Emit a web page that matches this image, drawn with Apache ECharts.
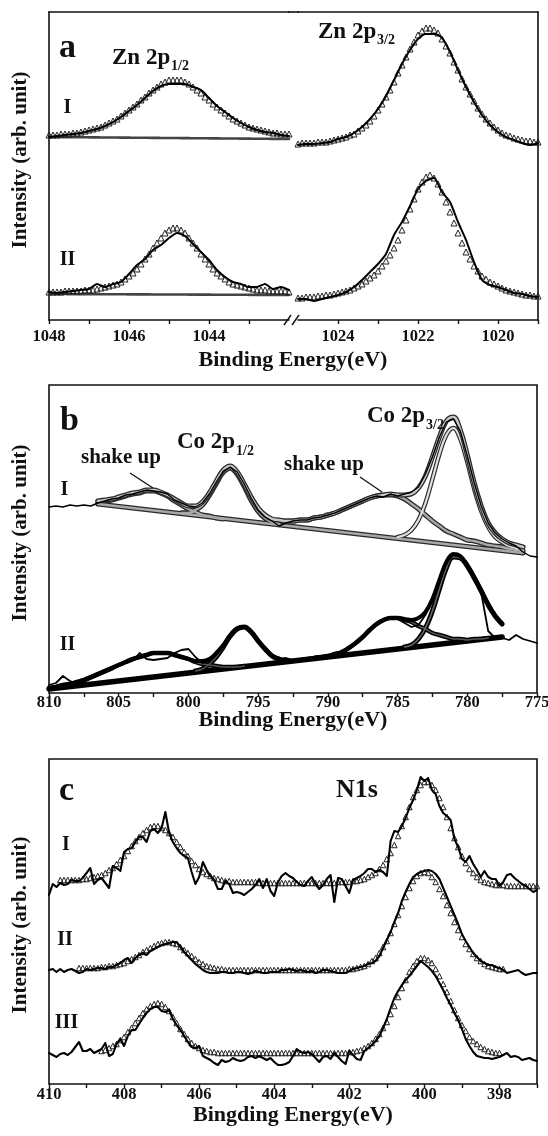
<!DOCTYPE html>
<html><head><meta charset="utf-8">
<script src="https://cdn.jsdelivr.net/npm/echarts@6/dist/echarts.min.js"></script>
<style>html,body{margin:0;padding:0;background:#fff}#chart{width:548px;height:1136px}</style>
</head><body><div id="chart"></div>
<script>
const FONT='"Liberation Serif","Times New Roman",Times,serif';
const INK='#111';

// ---------- Panel a : Zn 2p (values = intensity, arb. units) ----------
const aFitStep=0.1, aDataStep=0.2, aLeftStart=1048, aRightStart=1025;
const aFitI_L=[185,185,185,186,186,186,187,187,188,189,190,191,192,193,195,197,199,201,204,207,210,213,216,220,223,227,230,233,236,238,240,240,240,240,238,236,233,230,227,223,220,216,213,210,207,204,201,199,197,195,193,192,191,190,189,188,187,187,186,186,186];
const aDataI_L=[183,184,185,186,187,189,191,194,198,203,209,215,222,229,234,236,236,236,233,230,222,214,208,202,197,193,190,188,187,185,184];
const aFitII_L=[28,28,28,28,29,29,29,29,29,30,30,30,31,32,33,34,35,36,38,41,44,47,51,56,61,66,72,77,82,87,90,92,92,90,87,82,77,72,66,61,56,51,47,44,41,38,36,35,34,33,32,31,30,30,30,29,29,29,29,29,28];
const aDataII_L=[28,27,28,29,30,31,36,33,36,38,46,55,61,70,75,82,87,84,76,68,60,50,43,38,36,33,33,36,31,33,30];
const aFitI_R=[176,177,177,177,177,178,178,178,179,180,181,182,183,185,186,189,192,195,199,204,210,216,223,230,238,247,255,263,271,278,285,289,292,292,290,287,281,274,267,258,250,241,233,226,219,212,206,201,197,193,190,187,185,184,182,181,180,179,179,178,178];
const aDataI_R=[175,176,176,177,178,181,183,187,193,201,211,224,240,256,270,281,286,286,282,268,250,233,218,205,195,188,183,180,177,175,177];
const aFitII_R=[22,22,23,23,23,24,24,25,25,26,27,28,29,30,32,34,36,39,42,45,49,54,59,65,72,80,90,100,111,121,131,138,143,145,142,136,128,118,108,97,87,77,68,61,54,49,44,41,38,36,34,32,30,29,28,27,26,25,25,24,24];
const aDataII_R=[21,21,19,21,23,25,28,33,40,48,56,66,85,98,114,131,139,142,128,118,98,80,58,40,35,33,30,27,26,24,23];
const aBgE=[1048,1042], aBgI=[183,181], aBgII=[26,25];
const aTicksL=[1048,1047,1046,1045,1044,1043], aLabelsL=[1048,1046,1044];
const aTicksR=[1024,1023,1022,1021,1020,1019], aLabelsR=[1024,1022,1020];

// ---------- Panel b : Co 2p ----------
const bStep=0.5, bStart=810;
const bDataI=[186,187,186,188,187,188,187,190,192,194,195,198,199,201,203,202,201,199,193,190,187,186,190,199,211,222,226,221,209,195,183,176,172,167,170,172,173,173,175,176,178,180,183,186,189,192,195,197,196,199,197,199,201,206,219,236,256,271,274,262,237,210,187,170,160,154,150,147,141,137,136];
const bDataII=[8,10,17,12,10,11,14,17,20,23,27,30,32,40,34,33,34,35,40,43,44,36,30,32,38,48,58,65,66,61,52,43,36,34,35,33,34,33,35,34,37,38,41,44,49,56,63,69,73,75,74,70,66,68,78,93,112,130,138,136,128,116,100,62,55,55,53,58,54,52,50];
const bBgIE=[806.5,776], bBgI=[189,140];
const bShake1I_start=806.5, bShake1I=[191,192,193,195,197,199,200,202,202,200,197,192,188,184,181,178,177,175,174];
const bMain1I_start=800.5, bMain1I=[180,180,183,188,198,210,221,225,219,207,193,182,175,171,169];
const bShake2I_start=793, bShake2I=[172,172,173,173,175,176,178,180,183,186,189,192,195,197,198,198,197,194,189,184,178,172,167,162,159,156,153,152,150,148,147,146,144,143,142];
const bMain2I_start=785, bMain2I=[156,158,163,173,190,214,239,258,265,254,231,204,182,166,156,151,147,145,143];
const bEnvI_start=806.5, bEnvI=[192,193,194,196,198,200,201,203,203,201,198,194,190,187,187,191,200,212,223,227,221,209,196,185,178,174,173,172,172,173,173,175,176,178,180,183,186,189,192,195,197,198,199,198,198,199,205,217,236,256,272,276,263,238,210,187,170,160,154,150,148,146];
const bBgIIE=[810,777.5], bBgII=[4,56];
const bShake1II_start=810, bShake1II=[5,6,8,9,11,13,16,19,22,25,28,31,34,36,38,40,40,40,38,36,34,31,29,28,27,26,26,26,27];
const bMain1II_start=799.5, bMain1II=[22,24,29,36,46,57,64,66,61,52,44,37,34,32];
const bShake2II_start=791, bShake2II=[35,36,37,39,41,45,50,56,63,69,73,75,75,73,71,67,64,60,58,56,54,54,53,54,54,55];
const bMain2II_start=784.5, bMain2II=[46,48,54,65,82,104,125,136,135,127,115,102,88,77,69];
const bEnvII_start=810, bEnvII=[5,6,8,9,11,13,16,19,22,25,28,31,34,36,38,40,40,40,38,36,34,32,32,34,40,48,58,65,66,61,52,44,37,34,32,32,33,34,35,36,37,39,41,45,50,56,63,69,73,75,75,74,73,75,81,94,113,131,139,137,128,116,102,89,77,69];
const bTicks=[810,807.5,805,802.5,800,797.5,795,792.5,790,787.5,785,782.5,780,777.5,775];
const bLabels=[810,805,800,795,790,785,780,775];

// ---------- Panel c : N1s ----------
const cStep=0.1, cDataStart=410;
const cDataI=[189,200,197,201,199,200,204,203,203,206,211,216,200,204,206,201,196,218,216,213,232,235,236,242,247,247,242,253,255,251,256,272,251,242,236,231,228,226,212,200,207,222,214,208,204,195,195,203,200,191,192,191,189,192,195,199,205,196,205,193,188,202,208,211,208,206,202,199,198,203,207,200,195,199,205,209,182,206,205,198,191,204,206,208,211,215,215,212,214,212,208,243,253,252,258,266,276,284,294,307,303,306,294,290,278,271,268,264,245,237,225,222,228,220,214,207,213,207,205,205,198,202,209,210,206,203,200,198,195,192,194];
const cFitI_start=409.7, cFitI=[204,204,204,204,204,204,205,205,206,207,208,209,211,214,216,220,224,228,233,238,243,247,251,254,257,258,258,256,254,251,247,242,237,232,228,223,219,215,212,210,208,206,205,204,203,203,202,202,202,202,202,202,202,201,201,201,201,201,201,201,201,201,201,201,201,201,201,201,201,201,201,201,201,201,202,202,202,202,203,203,204,205,207,209,211,215,219,225,231,239,248,258,267,277,287,294,299,302,302,299,294,286,277,267,256,246,237,228,221,215,211,207,204,202,201,200,199,199,199,198,198,198,198,198,198,198,198,198];
const cDataII=[114,115,112,115,112,114,115,113,111,112,115,114,115,116,116,115,117,117,119,121,124,126,121,126,129,131,129,133,135,137,139,140,141,142,142,137,132,128,124,120,117,114,112,111,111,111,112,112,111,111,112,112,111,110,111,113,112,111,111,112,112,112,114,114,115,114,113,114,113,112,113,111,112,114,114,113,112,111,111,111,113,115,116,117,118,120,121,123,128,136,144,152,162,171,183,192,200,207,210,212,213,214,213,210,205,196,187,178,169,160,150,143,137,131,127,123,121,119,119,117,116,114,111,112,113,114,111,109,110,111,111];
const cFitII_start=409.2, cFitII=[116,116,116,116,116,116,117,117,118,118,119,120,121,123,125,127,129,132,134,136,138,140,141,142,142,141,140,137,134,131,128,125,122,120,118,117,116,115,115,114,114,114,114,114,114,114,114,114,114,114,114,114,114,114,114,114,114,114,114,114,114,114,114,114,114,114,114,114,114,114,114,114,115,115,116,117,118,120,123,126,131,137,143,151,160,169,178,187,196,203,208,211,212,211,207,202,195,188,179,171,162,154,147,140,135,130,126,123,120,118,117,116,115,115];
const cDataIII=[31,29,27,30,31,29,32,37,42,33,33,35,31,33,35,41,28,30,40,45,38,48,54,54,60,66,71,75,77,77,73,72,74,65,59,54,48,42,37,36,38,28,26,24,21,19,24,22,23,26,24,23,24,27,28,26,28,26,24,26,22,19,19,20,22,28,35,32,31,32,30,26,22,27,28,25,31,27,23,20,33,29,25,24,33,36,39,43,48,56,65,76,86,93,99,104,108,113,118,123,120,117,113,108,101,94,86,79,71,64,55,45,38,32,28,27,26,26,25,26,27,29,31,27,28,27,24,25,26,24,23];
const cFitIII_start=408.6, cFitIII=[33,34,36,38,40,44,47,52,56,61,66,71,75,78,80,81,80,77,73,67,61,55,50,45,41,38,36,34,33,32,32,31,31,31,31,31,31,31,31,31,31,31,31,31,31,31,31,31,31,31,31,31,31,31,31,31,31,31,31,31,31,31,31,31,31,31,32,32,33,34,36,38,41,45,50,56,62,70,78,87,96,104,112,118,123,126,126,124,121,115,108,100,92,83,74,66,59,53,47,43,40,37,35,33,32,31,31];
const cTicks=[410,409,408,407,406,405,404,403,402,401,400,399,398,397];
const cLabels=[410,408,406,404,402,400,398];

// ---------- helpers ----------
function pts(start, step, ys){ return ys.map((v,i)=>[+(start - i*step).toFixed(2), v]); }
function zip(xs, ys){ return ys.map((v,i)=>[xs[i], v]); }
const series=[];
function tri(data, xi, yi, size){
  series.push({type:'line', xAxisIndex:xi, yAxisIndex:yi, data, symbol:'triangle', symbolSize:size||6,
    showSymbol:true, showAllSymbol:true, lineStyle:{opacity:0,width:0}, silent:true, z:3,
    itemStyle:{color:'rgba(255,255,255,0)', borderColor:'#222', borderWidth:1}});
}
function line(data, xi, yi, color, width, smooth, z, dash){
  series.push({type:'line', xAxisIndex:xi, yAxisIndex:yi, data, symbol:'none', showSymbol:false, silent:true,
    smooth: smooth||false, z: z||4, lineStyle:{color, width, type: dash||'solid', cap:'round', join:'round'}});
}
function band(data, xi, yi, outer, inner, wo, wi, z){
  line(data, xi, yi, outer, wo, 0.4, z);
  if (inner) line(data, xi, yi, inner, wi, 0.4, z+0.1);
}

// panel a
line(zip(aBgE,aBgI),0,0,'#444',2.6,false,2,[2,1]);
line(zip(aBgE,aBgII),0,0,'#444',2.6,false,2,[2,1]);
tri(pts(aLeftStart,aFitStep,aFitI_L),0,0);
tri(pts(aLeftStart,aFitStep,aFitII_L),0,0);
line(pts(aLeftStart,aDataStep,aDataI_L),0,0,'#000',2,0.3);
line(pts(aLeftStart,aDataStep,aDataII_L),0,0,'#000',2,0.2);
tri(pts(aRightStart,aFitStep,aFitI_R),2,1);
tri(pts(aRightStart,aFitStep,aFitII_R),2,1);
line(pts(aRightStart,aDataStep,aDataI_R),2,1,'#000',2,0.3);
line(pts(aRightStart,aDataStep,aDataII_R),2,1,'#000',2,0.2);

// panel b row I
band(zip(bBgIE,bBgI),4,2,'#2a2a2a','#a8a8a8',5,2.4,3);
band(pts(bShake1I_start,bStep,bShake1I),4,2,'#2a2a2a','#a8a8a8',5,2.4,3);
band(pts(bMain1I_start,bStep,bMain1I),4,2,'#2a2a2a','#a8a8a8',5.5,2.6,3);
band(pts(bShake2I_start,bStep,bShake2I),4,2,'#2a2a2a','#a8a8a8',5,2.4,3);
band(pts(bMain2I_start,bStep,bMain2I),4,2,'#2a2a2a','#e0e0e0',4.5,2.2,3);
band(pts(bEnvI_start,bStep,bEnvI),4,2,'#2a2a2a','#c8c8c8',5,2.4,3.3);
line(pts(bStart,bStep,bDataI),4,2,'#000',1.4,false,5);
// panel b row II
band(zip(bBgIIE,bBgII),4,2,'#000',null,5.5,0,3);
band(pts(bShake1II_start,bStep,bShake1II),4,2,'#000','#555',4.5,1.4,3);
band(pts(bMain1II_start,bStep,bMain1II),4,2,'#000','#555',5,1.4,3);
band(pts(bShake2II_start,bStep,bShake2II),4,2,'#000','#555',4.5,1.4,3);
band(pts(bMain2II_start,bStep,bMain2II),4,2,'#000','#666',5,1.6,3);
band(pts(bEnvII_start,bStep,bEnvII),4,2,'#000',null,4,0,3.3);
line(pts(bStart,bStep,bDataII),4,2,'#000',1.8,false,5);

// panel c
tri(pts(cFitI_start,cStep,cFitI),5,3,5.5);
tri(pts(cFitII_start,cStep,cFitII),5,3,5.5);
tri(pts(cFitIII_start,cStep,cFitIII),5,3,5.5);
line(pts(cDataStart,cStep,cDataI),5,3,'#000',2.1,false,4);
line(pts(cDataStart,cStep,cDataII),5,3,'#000',2.1,false,4);
line(pts(cDataStart,cStep,cDataIII),5,3,'#000',2.1,false,4);

// ---------- axes ----------
const axLine={show:true,onZero:false,lineStyle:{color:INK,width:1.6}};
function xAx(grid,min,max,interval,ticks,labels,margin,showLine){
  return {type:'value',gridIndex:grid,position:'bottom',min,max,interval,inverse:true,
    axisLine: showLine?axLine:{show:false},
    axisTick:{show:true,inside:false,length:4,customValues:ticks,lineStyle:{color:INK,width:1.4}},
    axisLabel:{show:true,margin,customValues:labels,showMinLabel:true,showMaxLabel:true,
      formatter:v=>labels.indexOf(+v)>=0?String(v):'',color:INK,fontFamily:FONT,fontWeight:'bold',fontSize:16.5},
    splitLine:{show:false}};
}
function topAx(grid,min,max){
  return {type:'value',gridIndex:grid,position:'top',min,max,inverse:true,axisLine:axLine,
    axisTick:{show:false},axisLabel:{show:false},splitLine:{show:false}};
}
function yAx(grid,max,pos,showLine){
  return {type:'value',gridIndex:grid,min:0,max,position:pos,axisLine:showLine?axLine:{show:false},
    axisTick:{show:false},axisLabel:{show:false},splitLine:{show:false}};
}

// ---------- texts ----------
function T(x,base,s,fs,align){
  return {type:'text',x,y:base-0.34*fs,silent:true,z:100,
    style:{text:s,font:'bold '+fs+'px '+FONT,fill:INK,align:align||'left',verticalAlign:'middle',
      textAlign:align||'left',textVerticalAlign:'middle'}};
}
function TR(x,y,s,fs){
  return {type:'text',x,y,rotation:Math.PI/2,silent:true,z:100,
    style:{text:s,font:'bold '+fs+'px '+FONT,fill:INK,align:'center',verticalAlign:'middle',
      textAlign:'center',textVerticalAlign:'middle'}};
}
function L(x1,y1,x2,y2,w){
  return {type:'line',silent:true,z:100,shape:{x1,y1,x2,y2},style:{stroke:INK,lineWidth:w||1.3}};
}
const graphics=[
  T(59,60,'a',34), T(60,433,'b',34), T(59,803,'c',34),
  T(67.5,115,'I',20,'center'), T(67.5,267,'II',20,'center'),
  T(64.5,497,'I',20,'center'), T(67.5,652,'II',20,'center'),
  T(66,852,'I',20,'center'), T(65,947,'II',20,'center'), T(66.5,1030,'III',20,'center'),
  T(112,66,'Zn 2p',23), T(171,71,'1/2',14),
  T(318,40,'Zn 2p',23), T(377,45,'3/2',14),
  T(81,465,'shake up',21), T(284,472,'shake up',21),
  T(177,450,'Co 2p',23), T(236,456,'1/2',14),
  T(367,424,'Co 2p',23), T(426,430,'3/2',14),
  T(336,799,'N1s',26),
  T(293,368,'Binding Energy(eV)',22,'center'),
  T(293,728,'Binding Energy(eV)',22,'center'),
  T(293,1123,'Bingding Energy(eV)',22,'center'),
  TR(20.7,160,'Intensity (arb. unit)',21),
  TR(20.7,533,'Intensity (arb. unit)',21),
  TR(20.7,925,'Intensity (arb. unit)',21),
  L(130,473,153,488), L(360,477,382,492),
  L(288,12,299,12,1.6),
  L(284,325,291,315,1.4), L(292,325,299,315,1.4)
];

const option={
  animation:false,
  backgroundColor:'#fff',
  textStyle:{fontFamily:FONT},
  grid:[
    {left:49,top:12,width:240,height:308,containLabel:false,outerBoundsMode:'none'},
    {left:298,top:12,width:240,height:308,containLabel:false,outerBoundsMode:'none'},
    {left:49,top:385,width:488,height:308,show:true,borderColor:INK,borderWidth:1.6,backgroundColor:'rgba(0,0,0,0)',containLabel:false,outerBoundsMode:'none'},
    {left:49,top:759,width:488,height:325,show:true,borderColor:INK,borderWidth:1.6,backgroundColor:'rgba(0,0,0,0)',containLabel:false,outerBoundsMode:'none'}
  ],
  xAxis:[
    xAx(0,1042,1048,1,aTicksL,aLabelsL,8,true),
    topAx(0,1042,1048),
    xAx(1,1019,1025,1,aTicksR,aLabelsR,8,true),
    topAx(1,1019,1025),
    xAx(2,775,810,2.5,bTicks,bLabels,1,false),
    xAx(3,397,410,1,cTicks,cLabels,2,false)
  ],
  yAxis:[
    yAx(0,308,'left',true),
    yAx(1,308,'right',true),
    yAx(2,308,'left',false),
    yAx(3,325,'left',false)
  ],
  series,
  graphic:{elements:graphics}
};
const chart=echarts.init(document.getElementById('chart'),null,{renderer:'canvas'});
chart.setOption(option);
</script></body></html>
